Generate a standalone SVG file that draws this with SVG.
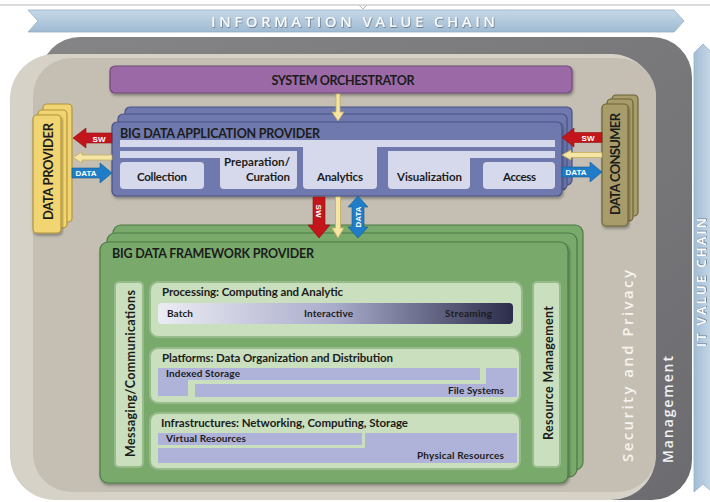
<svg xmlns="http://www.w3.org/2000/svg" width="710" height="502" viewBox="0 0 710 502">
<defs>
<linearGradient id="banH" x1="0" y1="0" x2="0" y2="1"><stop offset="0" stop-color="#c6d8e7"/><stop offset="1" stop-color="#9fbad2"/></linearGradient>
<linearGradient id="banV" x1="0" y1="0" x2="1" y2="0"><stop offset="0" stop-color="#a3bdd4"/><stop offset="1" stop-color="#c6d8e7"/></linearGradient>
<linearGradient id="proc" x1="0" y1="0" x2="1" y2="0"><stop offset="0" stop-color="#ececf4"/><stop offset="0.5" stop-color="#a9abcb"/><stop offset="1" stop-color="#2c2d4b"/></linearGradient>
<linearGradient id="mgmt" x1="0" y1="0" x2="1" y2="1"><stop offset="0" stop-color="#858587"/><stop offset="1" stop-color="#6c6c70"/></linearGradient>
<filter id="sh" x="-10%" y="-10%" width="120%" height="125%"><feDropShadow dx="1" dy="2" stdDeviation="1.5" flood-color="#000" flood-opacity="0.35"/></filter>
<filter id="ts" x="-5%" y="-20%" width="110%" height="140%"><feDropShadow dx="0.6" dy="0.8" stdDeviation="0.5" flood-color="#3a4a5a" flood-opacity="0.7"/></filter>
<style>
.t{font-family:Lato,"Liberation Sans",sans-serif;font-weight:bold;fill:#1c1c1c}
.w{font-family:"Liberation Sans",Arial,sans-serif;font-weight:bold;fill:#fff;font-size:8px}
.sp{font-family:"Open Sans","DejaVu Sans",sans-serif;font-weight:600;letter-spacing:3px}
.blue{fill:#6f79ad;stroke:#4a5285;stroke-width:1.2}
.lt{fill:#d6d8eb}
.yel{fill:#f1d572;stroke:#b3963a;stroke-width:1.2}
.oli{fill:#a89c6a;stroke:#6c6337;stroke-width:1.2}
.grn{fill:#79aa6c;stroke:#4d7a44;stroke-width:1.2}
.lg{fill:#c9dfbd;stroke:#97bb8b;stroke-width:2}
.lav{fill:#b0b3d9}
.red{fill:#c3161c;stroke:#8e0f13;stroke-width:0.6}
.bl{fill:#1f7cc7;stroke:#145a92;stroke-width:0.6}
.ya{fill:#f6e6a6;stroke:#c4ad5e;stroke-width:0.8}
</style>
</defs>
<rect width="710" height="502" fill="#fff"/>
<line x1="0" y1="5" x2="710" y2="5" stroke="#cfcfcf" stroke-width="1.5"/>
<path d="M359,5 L363,9 L367,5" fill="none" stroke="#bdbdbd" stroke-width="1"/>
<g id="info-chain">
<polygon points="28,10 674,10 684,21 674,32 28,32 38,21" fill="url(#banH)" stroke="#93aec6" stroke-width="0.8"/>
<text class="sp" x="211" y="27" font-size="15" fill="#f7f9fb" textLength="287" filter="url(#ts)">INFORMATION VALUE CHAIN</text>
</g>
<g id="it-chain">
<polygon points="694,53 703,44 712,53 712,492 703,484 694,492" fill="url(#banV)" stroke="#93aec6" stroke-width="0.8"/>
<text class="sp" transform="translate(706,281) rotate(-90)" text-anchor="middle" font-size="13" fill="#ffffff" textLength="132" filter="url(#ts)">IT VALUE CHAIN</text>
</g>
<g id="management">
<rect x="40" y="37" width="652" height="463" rx="40" fill="url(#mgmt)"/>
<text class="sp" transform="translate(673,408) rotate(-90)" text-anchor="middle" font-size="14" fill="#f2f2f4" textLength="110">Management</text>
</g>
<g id="security">
<rect x="10" y="54" width="646" height="446" rx="45" fill="#d7d2c7"/>
<rect x="33" y="58" width="623" height="434" rx="38" fill="#c5bfb3"/>
<text class="sp" transform="translate(633,364.5) rotate(-90)" text-anchor="middle" font-size="15" fill="#f6f4ef" textLength="195">Security and Privacy</text>
</g>
<g id="orchestrator">
<rect x="110" y="66" width="462" height="27" rx="5" fill="#9b6ba6" stroke="#6e4a78" stroke-width="1.2" filter="url(#sh)"/>
<text class="t" x="343" y="85" text-anchor="middle" font-size="12.5" textLength="143">SYSTEM ORCHESTRATOR</text>
</g>
<g id="data-provider">
<rect x="43" y="104" width="29" height="118" rx="4" class="yel"/>
<rect x="38" y="110" width="29" height="118" rx="4" class="yel"/>
<rect x="33" y="115" width="28" height="118" rx="4" class="yel" filter="url(#sh)"/>
<text class="t" transform="translate(53,171.5) rotate(-90)" text-anchor="middle" font-size="13" textLength="97">DATA PROVIDER</text>
</g>
<g id="data-consumer">
<rect x="612" y="95" width="26" height="121" rx="4" class="oli"/>
<rect x="607" y="99" width="26" height="122" rx="4" class="oli"/>
<rect x="602" y="104" width="26" height="122" rx="4" class="oli" filter="url(#sh)"/>
<text class="t" transform="translate(620,164) rotate(-90)" text-anchor="middle" font-size="13" textLength="102">DATA CONSUMER</text>
</g>
<g id="app-provider">
<rect x="125" y="107" width="447" height="78" rx="5" class="blue"/>
<rect x="118" y="114" width="449" height="76" rx="5" class="blue"/>
<rect x="112" y="122" width="450" height="74" rx="5" class="blue" filter="url(#sh)"/>
<text class="t" x="120" y="137.5" font-size="12.5" textLength="200">BIG DATA APPLICATION PROVIDER</text>
<rect x="120" y="140" width="435" height="7" class="lt"/>
<rect x="303" y="140" width="74" height="49" rx="4" class="lt"/>
<rect x="120" y="151" width="177" height="7" class="lt"/>
<rect x="220" y="151" width="77" height="38" rx="4" class="lt"/>
<rect x="120" y="162" width="84" height="27" rx="4" class="lt"/>
<rect x="388" y="151" width="167" height="7" class="lt"/>
<rect x="388" y="151" width="82" height="38" rx="4" class="lt"/>
<rect x="483" y="162" width="72" height="27" rx="4" class="lt"/>
<text class="t" x="162" y="181" text-anchor="middle" font-size="11.5" textLength="50">Collection</text>
<text class="t" x="290" y="166" text-anchor="end" font-size="11.5" textLength="66">Preparation/</text>
<text class="t" x="290" y="181" text-anchor="end" font-size="11.5" textLength="44">Curation</text>
<text class="t" x="340" y="181" text-anchor="middle" font-size="11.5" textLength="46">Analytics</text>
<text class="t" x="429.5" y="181" text-anchor="middle" font-size="11.5" textLength="65">Visualization</text>
<text class="t" x="519.5" y="181" text-anchor="middle" font-size="11.5" textLength="33">Access</text>
</g>
<g id="framework-provider">
<rect x="113" y="225" width="470" height="245" rx="8" class="grn"/>
<rect x="107" y="233" width="470" height="244" rx="8" class="grn"/>
<rect x="100" y="242" width="468" height="241" rx="8" class="grn" filter="url(#sh)" fill="#7dae70"/>
<text class="t" x="112" y="258" font-size="12.5" textLength="202">BIG DATA FRAMEWORK PROVIDER</text>
</g>
<g id="messaging">
<rect x="115" y="282" width="28" height="185" rx="4" class="lg"/>
<text class="t" transform="translate(135,373.5) rotate(-90)" text-anchor="middle" font-size="12.5" textLength="167">Messaging/Communications</text>
</g>
<g id="resource-mgmt">
<rect x="533" y="282" width="27" height="185" rx="4" class="lg"/>
<text class="t" transform="translate(553,373) rotate(-90)" text-anchor="middle" font-size="12.5" textLength="134">Resource Management</text>
</g>
<g id="processing">
<rect x="150" y="282" width="372" height="55" rx="8" class="lg"/>
<text class="t" x="162" y="296" font-size="11.5" textLength="181">Processing: Computing and Analytic</text>
<rect x="158" y="303" width="355" height="21" rx="4" fill="url(#proc)"/>
<text class="t" x="167" y="317" font-size="10" textLength="26">Batch</text>
<text class="t" x="304" y="317" font-size="10" textLength="49">Interactive</text>
<text class="t" x="445" y="317" font-size="10" textLength="47" fill="#15152a">Streaming</text>
</g>
<g id="platforms">
<rect x="150" y="348" width="370" height="55" rx="8" class="lg"/>
<text class="t" x="162" y="362" font-size="11.5" textLength="231">Platforms: Data Organization and Distribution</text>
<path d="M158,368 H480 V380 H188 V396 H158 Z" class="lav"/>
<path d="M486,368 H517 V397 H195 V384 H486 Z" class="lav"/>
<text class="t" x="166" y="377" font-size="10" textLength="74">Indexed Storage</text>
<text class="t" x="504" y="394" text-anchor="end" font-size="10" textLength="56">File Systems</text>
</g>
<g id="infrastructures">
<rect x="150" y="413" width="370" height="56" rx="8" class="lg"/>
<text class="t" x="161" y="427" font-size="11.5" textLength="247">Infrastructures: Networking, Computing, Storage</text>
<rect x="158" y="433" width="204" height="12" class="lav"/>
<path d="M365,433 H517 V463 H158 V448 H365 Z" class="lav"/>
<text class="t" x="166" y="442" font-size="10" textLength="80">Virtual Resources</text>
<text class="t" x="504" y="459" text-anchor="end" font-size="10" textLength="87">Physical Resources</text>
</g>
<g id="connectors">
<polygon points="336,94 340,94 340,112 344,112 338,121 332,112 336,112" class="ya"/>
<polygon points="73,138 86,128 86,133 112,133 112,143 86,143 86,148" class="red"/>
<text class="w" x="99" y="141.5" text-anchor="middle">SW</text>
<polygon points="73,157.5 82,152 82,155 112,155 112,160 82,160 82,163" class="ya"/>
<polygon points="72,168 100,168 100,163 112,173 100,183 100,178 72,178" class="bl"/>
<text class="w" x="86" y="176" text-anchor="middle">DATA</text>
<polygon points="562,137.5 574,128 574,132.5 602,132.5 602,142.5 574,142.5 574,147" class="red"/>
<text class="w" x="588" y="141" text-anchor="middle">SW</text>
<polygon points="562,155 571,150 571,152.5 602,152.5 602,157.5 571,157.5 571,160" class="ya"/>
<polygon points="562,167 590,167 590,162 602,172 590,182 590,177 562,177" class="bl"/>
<text class="w" x="576" y="175" text-anchor="middle">DATA</text>
<polygon points="313,197 325,197 325,225 330,225 319,238 308,225 313,225" class="red"/>
<text class="w" transform="translate(316,211) rotate(90)" text-anchor="middle">SW</text>
<polygon points="335.5,197 340.5,197 340.5,228 344,228 338,238 332,228 335.5,228" class="ya"/>
<polygon points="358,196 368,207 364,207 364,227 368,227 358,238 348,227 352,227 352,207 348,207" class="bl"/>
<text class="w" transform="translate(361,217) rotate(-90)" text-anchor="middle">DATA</text>
</g>
</svg>
